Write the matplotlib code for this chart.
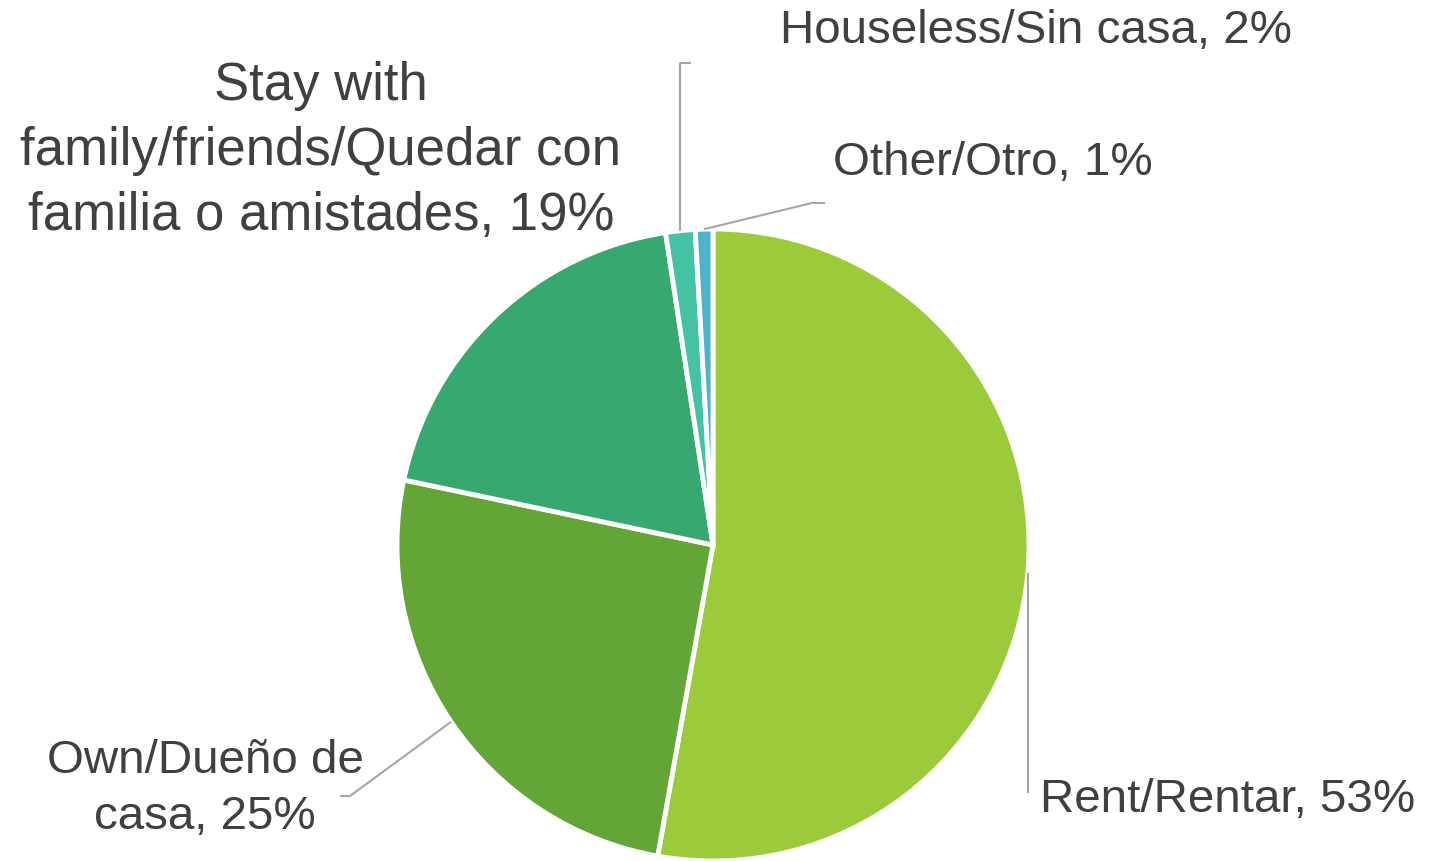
import numpy as np
import matplotlib
matplotlib.use("Agg")
import matplotlib.pyplot as plt

# housing situation shares (clockwise from 12 o'clock)
categories = ["Rent/Rentar", "Own/Dueño de casa",
              "Stay with family/friends/Quedar con familia o amistades",
              "Houseless/Sin casa", "Other/Otro"]
shares = [52.8, 25.5, 19.3, 1.5, 0.9]
pct_labels = ["53%", "25%", "19%", "2%", "1%"]
colors = ["#9BCB3B", "#63A536", "#37A870", "#45C1A4", "#4CB3CF"]

W, H = 1442, 861
CX, CY, R = 713, 545, 316      # pie centre / radius in pixels (y from top)
TXT = "#404040"
LEAD = "#A6A6A6"
FS = 34.2

plt.rcParams["font.family"] = ["Liberation Sans", "DejaVu Sans"]


def Y(py):
    return H - py


fig = plt.figure(figsize=(W / 100, H / 100), dpi=100)
ax = fig.add_axes([0, 0, 1, 1])
wedges, _ = ax.pie(shares, colors=colors, startangle=90, counterclock=False,
                   center=(CX, Y(CY)), radius=R,
                   wedgeprops=dict(edgecolor="white", linewidth=3.5))
ax.set_xlim(0, W)
ax.set_ylim(0, H)
ax.set_aspect("equal")
ax.axis("off")


def edge_point(w):
    # mid-angle point on the rim of a wedge
    a = np.deg2rad((w.theta1 + w.theta2) / 2)
    return CX + R * np.cos(a), Y(CY) + R * np.sin(a)


def leader(w, pts):
    x0, y0 = edge_point(w)
    xs = [x0] + [p[0] for p in pts]
    ys = [y0] + [Y(p[1]) for p in pts]
    ax.plot(xs, ys, color=LEAD, lw=1.5, solid_capstyle="butt")


# leader lines
rx, _ = edge_point(wedges[0])
leader(wedges[0], [(rx, 793)])
leader(wedges[1], [(350, 796), (340, 796)])
hx, _ = edge_point(wedges[3])
leader(wedges[3], [(hx, 63), (691, 63)])
leader(wedges[4], [(812, 203), (825, 203)])

# data labels
lbl = dict(color=TXT, fontsize=FS, linespacing=1.38)
ax.text(1040, Y(800), f"{categories[0]}, {pct_labels[0]}", ha="left", va="center", **lbl)
ax.text(205, Y(789), f"Own/Dueño de\ncasa, {pct_labels[1]}", ha="center", va="center", **lbl)
ax.text(321, Y(151), f"Stay with\nfamily/friends/Quedar con\nfamilia o amistades, {pct_labels[2]}",
        ha="center", va="center", color=TXT, fontsize=38, linespacing=1.39)
ax.text(780, Y(31), f"{categories[3]}, {pct_labels[3]}", ha="left", va="center", **lbl)
ax.text(833, Y(163), f"{categories[4]}, {pct_labels[4]}", ha="left", va="center", **lbl)

fig.savefig("out.png", dpi=100)
